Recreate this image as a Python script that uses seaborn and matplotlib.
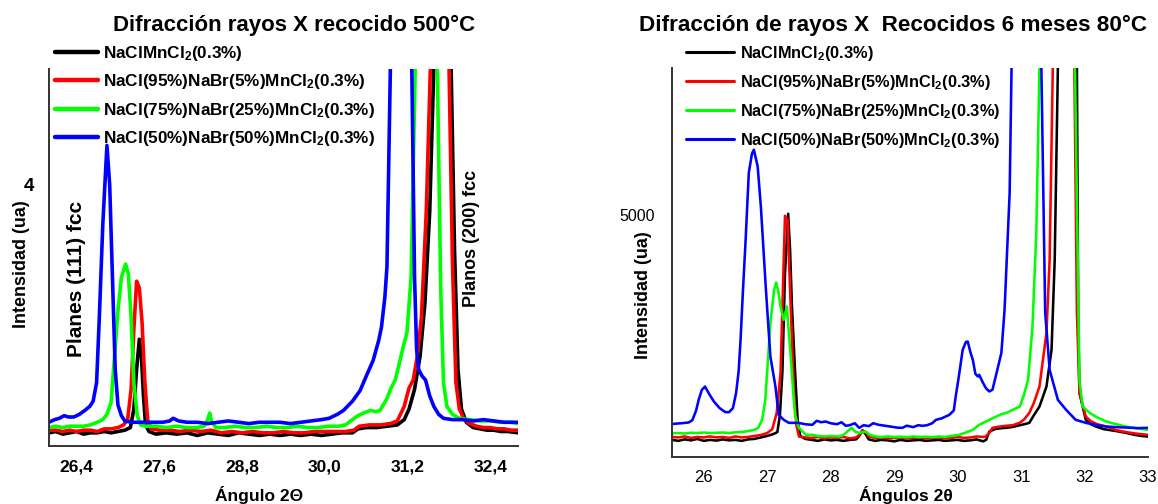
import matplotlib
matplotlib.use("Agg")
import matplotlib.pyplot as plt
from matplotlib.lines import Line2D
from matplotlib.ticker import FixedLocator
import seaborn as sns
import pandas as pd

# ---------------- data: left panel (annealed 500 C) ----------------
series_names = [r"NaClMnCl$_2$(0.3%)",
                r"NaCl(95%)NaBr(5%)MnCl$_2$(0.3%)",
                r"NaCl(75%)NaBr(25%)MnCl$_2$(0.3%)",
                r"NaCl(50%)NaBr(50%)MnCl$_2$(0.3%)"]
series_colors = ["#000000", "#ff0000", "#00ff00", "#0000ff"]

left_black_x = [26.00, 26.10, 26.20, 26.30, 26.40, 26.50, 26.60, 26.70, 26.80, 26.90, 27.00, 27.10, 27.18, 27.23,
                27.27, 27.31, 27.34, 27.37, 27.40, 27.45, 27.55, 27.70, 27.85, 28.00, 28.15, 28.30, 28.45, 28.60,
                28.75, 28.90, 29.05, 29.20, 29.35, 29.50, 29.65, 29.80, 29.95, 30.10, 30.25, 30.40, 30.48, 30.60,
                30.75, 30.90, 31.05, 31.15, 31.22, 31.30, 31.38, 31.45, 31.52, 31.58, 31.64, 31.70, 31.76, 31.83,
                31.88, 31.93, 31.98, 32.05, 32.15, 32.25, 32.35, 32.45, 32.55, 32.65, 32.80]
left_black_y = [2.12, 2.13, 2.11, 2.12, 2.13, 2.11, 2.12, 2.12, 2.13, 2.12, 2.13, 2.14, 2.16, 2.30,
                2.60, 2.83, 2.70, 2.40, 2.18, 2.13, 2.11, 2.12, 2.11, 2.12, 2.10, 2.12, 2.11, 2.10,
                2.12, 2.11, 2.10, 2.11, 2.10, 2.11, 2.10, 2.11, 2.10, 2.11, 2.12, 2.12, 2.15, 2.16,
                2.16, 2.17, 2.18, 2.22, 2.30, 2.45, 2.70, 3.10, 3.80, 4.90, 7.0, 9.0, 7.0, 4.90,
                3.50, 2.60, 2.30, 2.20, 2.16, 2.15, 2.14, 2.14, 2.13, 2.13, 2.12]

left_red_x = [26.00, 26.10, 26.20, 26.30, 26.40, 26.50, 26.60, 26.70, 26.80, 26.90, 27.00, 27.08, 27.14, 27.19,
              27.23, 27.27, 27.31, 27.35, 27.39, 27.43, 27.48, 27.60, 27.75, 27.90, 28.05, 28.20, 28.35, 28.50,
              28.65, 28.80, 28.95, 29.10, 29.25, 29.40, 29.55, 29.70, 29.85, 30.00, 30.15, 30.30, 30.42, 30.50,
              30.65, 30.80, 30.95, 31.05, 31.15, 31.22, 31.28, 31.34, 31.40, 31.47, 31.53, 31.60, 31.66, 31.73,
              31.80, 31.85, 31.90, 31.95, 32.02, 32.10, 32.20, 32.30, 32.40, 32.50, 32.60, 32.70, 32.80]
left_red_y = [2.14, 2.14, 2.13, 2.14, 2.13, 2.14, 2.14, 2.13, 2.15, 2.15, 2.16, 2.18, 2.22, 2.45,
              2.90, 3.27, 3.22, 2.95, 2.50, 2.22, 2.15, 2.14, 2.14, 2.13, 2.14, 2.13, 2.14, 2.12,
              2.13, 2.12, 2.13, 2.12, 2.12, 2.13, 2.12, 2.12, 2.13, 2.13, 2.13, 2.13, 2.14, 2.17,
              2.18, 2.18, 2.19, 2.21, 2.32, 2.46, 2.52, 2.70, 3.00, 3.80, 4.90, 7.5, 9.0, 7.5,
              4.90, 3.40, 2.50, 2.30, 2.22, 2.19, 2.17, 2.16, 2.16, 2.15, 2.15, 2.14, 2.14]

left_green_x = [26.00, 26.10, 26.20, 26.30, 26.40, 26.50, 26.60, 26.70, 26.78, 26.84, 26.90, 26.95, 27.00, 27.05,
                27.11, 27.15, 27.19, 27.23, 27.28, 27.33, 27.40, 27.55, 27.70, 27.85, 28.00, 28.15, 28.25, 28.30,
                28.33, 28.36, 28.42, 28.55, 28.70, 28.85, 29.00, 29.15, 29.30, 29.45, 29.60, 29.75, 29.90, 30.05,
                30.20, 30.30, 30.40, 30.48, 30.56, 30.66, 30.74, 30.80, 30.90, 30.96, 31.02, 31.09, 31.14, 31.19,
                31.25, 31.31, 31.39, 31.47, 31.55, 31.63, 31.68, 31.72, 31.77, 31.85, 31.95, 32.10, 32.25, 32.40,
                32.55, 32.70, 32.80]
left_green_y = [2.16, 2.17, 2.16, 2.17, 2.17, 2.17, 2.18, 2.20, 2.22, 2.26, 2.35, 2.70, 3.05, 3.30,
                3.40, 3.33, 3.00, 2.50, 2.25, 2.18, 2.17, 2.17, 2.16, 2.17, 2.16, 2.16, 2.17, 2.22,
                2.27, 2.20, 2.16, 2.16, 2.17, 2.16, 2.16, 2.17, 2.16, 2.16, 2.17, 2.16, 2.16, 2.17,
                2.17, 2.18, 2.22, 2.25, 2.27, 2.29, 2.28, 2.29, 2.38, 2.46, 2.52, 2.67, 2.78, 2.88,
                3.30, 4.90, 7.5, 9.0, 7.5, 4.90, 3.20, 2.50, 2.32, 2.26, 2.23, 2.22, 2.21, 2.21,
                2.20, 2.20, 2.19]

left_blue_x = [26.00, 26.08, 26.15, 26.22, 26.28, 26.36, 26.44, 26.52, 26.59, 26.64, 26.69, 26.73, 26.78, 26.84,
               26.88, 26.92, 26.96, 27.00, 27.05, 27.10, 27.20, 27.35, 27.50, 27.65, 27.75, 27.80, 27.88, 28.00,
               28.15, 28.30, 28.45, 28.60, 28.75, 28.90, 29.05, 29.20, 29.35, 29.50, 29.65, 29.80, 29.95, 30.06,
               30.18, 30.27, 30.40, 30.51, 30.60, 30.70, 30.78, 30.82, 30.87, 30.90, 30.95, 31.02, 31.10, 31.18,
               31.26, 31.30, 31.33, 31.36, 31.41, 31.46, 31.52, 31.58, 31.65, 31.72, 31.85, 32.00, 32.15, 32.30,
               32.45, 32.60, 32.80]
left_blue_y = [2.20, 2.22, 2.23, 2.25, 2.24, 2.24, 2.26, 2.29, 2.32, 2.36, 2.50, 3.00, 3.70, 4.30,
               4.00, 3.30, 2.60, 2.33, 2.25, 2.21, 2.20, 2.20, 2.20, 2.20, 2.21, 2.23, 2.21, 2.20,
               2.20, 2.19, 2.20, 2.21, 2.20, 2.19, 2.20, 2.20, 2.20, 2.19, 2.20, 2.21, 2.22, 2.23,
               2.26, 2.29, 2.36, 2.44, 2.55, 2.67, 2.82, 2.92, 3.15, 3.38, 4.90, 7.5, 9.0, 7.5,
               4.90, 3.30, 2.75, 2.60, 2.55, 2.52, 2.40, 2.32, 2.26, 2.23, 2.22, 2.22, 2.21, 2.22,
               2.21, 2.20, 2.20]

# ---------------- data: right panel (6 months at 80 C) ----------------
right_black_x = [25.50, 25.60, 25.70, 25.80, 25.90, 26.00, 26.10, 26.20, 26.30, 26.40, 26.50, 26.60, 26.70, 26.80,
                 26.90, 27.00, 27.10, 27.16, 27.20, 27.24, 27.28, 27.33, 27.36, 27.39, 27.44, 27.48, 27.52, 27.60,
                 27.70, 27.80, 27.90, 28.00, 28.10, 28.20, 28.30, 28.40, 28.45, 28.50, 28.55, 28.60, 28.70, 28.80,
                 28.90, 29.00, 29.10, 29.20, 29.30, 29.40, 29.50, 29.60, 29.70, 29.80, 29.90, 30.00, 30.10, 30.20,
                 30.30, 30.40, 30.45, 30.50, 30.60, 30.70, 30.76, 30.85, 30.95, 31.05, 31.13, 31.20, 31.29, 31.40,
                 31.48, 31.53, 31.58, 31.65, 31.73, 31.80, 31.88, 31.90, 31.92, 32.02, 32.10, 32.18, 32.30, 32.40,
                 32.50, 32.65, 32.80, 32.90, 33.00]
right_black_y = [400, 380, 410, 390, 420, 380, 400, 385, 410, 390, 400, 380, 410, 420,
                 450, 480, 520, 560, 900, 1800, 3800, 5020, 4300, 3126, 1769, 800, 480, 420,
                 400, 380, 410, 390, 400, 380, 400, 410, 480, 590, 520, 410, 380, 400,
                 390, 370, 400, 380, 390, 400, 380, 390, 400, 380, 390, 400, 380, 390,
                 410, 370, 400, 571, 625, 640, 646, 660, 690, 720, 748, 900, 1081, 1490,
                 2240, 4080, 8000, 14000, 20000, 14000, 8000, 3000, 1360, 810, 720, 673, 620, 600,
                 580, 544, 500, 480, 468]

right_red_x = [25.50, 25.60, 25.70, 25.80, 25.90, 26.00, 26.10, 26.20, 26.30, 26.40, 26.50, 26.60, 26.70, 26.80,
               26.90, 27.00, 27.08, 27.15, 27.21, 27.24, 27.28, 27.32, 27.37, 27.42, 27.46, 27.50, 27.60, 27.70,
               27.80, 27.90, 28.00, 28.10, 28.20, 28.30, 28.40, 28.45, 28.50, 28.55, 28.60, 28.70, 28.80, 28.90,
               29.00, 29.10, 29.20, 29.30, 29.40, 29.50, 29.60, 29.70, 29.80, 29.90, 30.00, 30.10, 30.20, 30.30,
               30.40, 30.44, 30.50, 30.55, 30.65, 30.76, 30.87, 30.98, 31.05, 31.13, 31.20, 31.29, 31.40, 31.45,
               31.50, 31.58, 31.67, 31.76, 31.84, 31.88, 31.92, 32.02, 32.10, 32.20, 32.34, 32.50, 32.65, 32.80,
               33.00]
right_red_y = [460, 450, 470, 440, 460, 450, 470, 450, 460, 440, 470, 450, 460, 480,
               500, 540, 620, 952, 1769, 3126, 4980, 4898, 3126, 1422, 700, 468, 450, 440,
               460, 430, 450, 440, 460, 430, 450, 500, 600, 560, 470, 440, 450, 430,
               440, 450, 430, 440, 450, 430, 440, 450, 430, 440, 460, 440, 450, 470,
               460, 468, 544, 646, 670, 687, 700, 750, 820, 952, 1150, 1490, 2588, 4080,
               8000, 14000, 20000, 14000, 8000, 3000, 1360, 877, 780, 720, 673, 600, 560, 530,
               503]

right_green_x = [25.50, 25.60, 25.70, 25.80, 25.90, 26.00, 26.10, 26.20, 26.30, 26.40, 26.50, 26.60, 26.70, 26.80,
                 26.86, 26.92, 26.97, 27.01, 27.05, 27.11, 27.14, 27.18, 27.21, 27.26, 27.31, 27.37, 27.42, 27.44,
                 27.50, 27.61, 27.71, 27.80, 27.90, 28.00, 28.13, 28.20, 28.27, 28.33, 28.39, 28.45, 28.55, 28.62,
                 28.71, 28.80, 28.90, 29.00, 29.10, 29.20, 29.30, 29.40, 29.50, 29.60, 29.70, 29.80, 29.90, 30.03,
                 30.15, 30.24, 30.34, 30.50, 30.61, 30.70, 30.77, 30.87, 30.98, 31.04, 31.11, 31.18, 31.24, 31.29,
                 31.38, 31.57, 31.76, 31.85, 31.92, 31.97, 32.08, 32.20, 32.34, 32.50, 32.65, 32.80, 33.00]
right_green_y = [537, 540, 530, 545, 540, 550, 540, 545, 550, 540, 555, 560, 580, 605,
                 650, 810, 1218, 2000, 2792, 3467, 3616, 3400, 3126, 2853, 3126, 2104, 1218, 900,
                 646, 503, 503, 480, 470, 480, 468, 500, 580, 645, 560, 544, 571, 500,
                 468, 460, 470, 460, 465, 455, 470, 460, 465, 455, 470, 460, 480, 503,
                 560, 605, 707, 810, 877, 930, 952, 1014, 1081, 1300, 1627, 2717, 4632, 8000,
                 14000, 20000, 14000, 8000, 1627, 1081, 952, 860, 775, 720, 673, 640, 605]

right_blue_x = [25.47, 25.55, 25.65, 25.76, 25.82, 25.88, 25.92, 25.97, 26.02, 26.08, 26.16, 26.25, 26.34, 26.40,
                26.46, 26.51, 26.55, 26.58, 26.62, 26.66, 26.71, 26.76, 26.79, 26.85, 26.90, 26.98, 27.05, 27.13,
                27.18, 27.26, 27.34, 27.49, 27.60, 27.71, 27.78, 27.85, 27.92, 28.00, 28.10, 28.17, 28.24, 28.30,
                28.38, 28.45, 28.52, 28.60, 28.67, 28.76, 28.85, 28.95, 29.05, 29.13, 29.20, 29.30, 29.38, 29.45,
                29.52, 29.60, 29.66, 29.75, 29.87, 29.94, 29.97, 30.02, 30.08, 30.13, 30.16, 30.20, 30.24, 30.28,
                30.32, 30.34, 30.40, 30.45, 30.50, 30.55, 30.62, 30.69, 30.74, 30.82, 30.85, 30.95, 31.08, 31.20,
                31.32, 31.38, 31.45, 31.58, 31.71, 31.86, 32.02, 32.20, 32.34, 32.50, 32.70, 32.85, 33.00]
right_blue_y = [721, 730, 740, 755, 800, 1000, 1218, 1420, 1490, 1350, 1184, 1050, 967, 967,
                1050, 1360, 1800, 2443, 3500, 4486, 5857, 6250, 6329, 5988, 5170, 3467, 2104, 1490,
                912, 810, 748, 748, 720, 707, 790, 760, 775, 740, 720, 760, 687, 700,
                740, 646, 700, 680, 740, 707, 690, 670, 650, 646, 690, 660, 700, 687,
                700, 740, 810, 840, 912, 1000, 1286, 1700, 2240, 2400, 2410, 2200, 2035, 1750,
                1695, 1730, 1565, 1450, 1390, 1425, 1800, 2180, 3058, 5446, 8000, 14000, 20000, 14000,
                8000, 3000, 1832, 1218, 1014, 810, 748, 700, 673, 660, 650, 640, 646]

left_xticks = [26.4, 27.6, 28.8, 30.0, 31.2, 32.4]
left_xticklabels = ["26,4", "27,6", "28,8", "30,0", "31,2", "32,4"]
right_xticks = [26, 27, 28, 29, 30, 31, 32, 33]

# ---------------- style ----------------
sns.set_style("white")
plt.rcParams["font.family"] = ["Liberation Sans", "DejaVu Sans"]
plt.rcParams["mathtext.fontset"] = "custom"
plt.rcParams["mathtext.rm"] = "Liberation Sans:bold"
plt.rcParams["mathtext.it"] = "Liberation Sans:bold"
plt.rcParams["mathtext.bf"] = "Liberation Sans:bold"
plt.rcParams["mathtext.default"] = "rm"
plt.rcParams["text.color"] = "black"
plt.rcParams["axes.labelcolor"] = "black"
plt.rcParams["xtick.color"] = "black"
plt.rcParams["ytick.color"] = "black"

W, H = 1158, 504
fig = plt.figure(figsize=(W / 100, H / 100), dpi=100)
axL = fig.add_axes([49 / W, 1 - 446 / H, 469 / W, 377 / H])
axR = fig.add_axes([672 / W, 1 - 457 / H, 476 / W, 389 / H])


def make_df(xs, ys):
    frames = []
    for name, x, y in zip(series_names, xs, ys):
        frames.append(pd.DataFrame({"x": x, "y": y, "serie": name}))
    return pd.concat(frames, ignore_index=True)


dfL = make_df([left_black_x, left_red_x, left_green_x, left_blue_x],
              [left_black_y, left_red_y, left_green_y, left_blue_y])
dfR = make_df([right_black_x, right_red_x, right_green_x, right_blue_x],
              [right_black_y, right_red_y, right_green_y, right_blue_y])
palette = dict(zip(series_names, series_colors))

sns.lineplot(data=dfL, x="x", y="y", hue="serie", hue_order=series_names, palette=palette,
             estimator=None, sort=False, lw=2.6, ax=axL, legend=False)
sns.lineplot(data=dfR, x="x", y="y", hue="serie", hue_order=series_names, palette=palette,
             estimator=None, sort=False, lw=1.85, ax=axR, legend=False)

# ---------------- left axes ----------------
axL.set_xlim(26.0, 32.8)
axL.set_ylim(2.02, 4.88)
axL.set_xticks(left_xticks)
axL.set_xticklabels(left_xticklabels, fontsize=12.5, fontweight="bold")
axL.xaxis.set_minor_locator(FixedLocator([27.0, 28.2, 29.4, 30.6, 31.8]))
axL.set_yticks([4])
axL.set_yticklabels(["4"], fontsize=13.5, fontweight="bold")
axL.yaxis.set_minor_locator(FixedLocator([3]))
axL.tick_params(axis="both", which="major", direction="out", length=6, width=1.3, color="#333333", pad=4)
axL.tick_params(axis="y", which="major", length=8, pad=3)
axL.tick_params(axis="both", which="minor", direction="out", length=5, width=1.3, color="#333333")
axL.set_xlabel("Ángulo 2Θ", fontsize=12.5, fontweight="bold")
axL.xaxis.set_label_coords(0.447, -0.106)
axL.set_ylabel("Intensidad (ua)", fontsize=13, fontweight="bold")
axL.yaxis.set_label_coords(-0.041, 0.483)

# ---------------- right axes ----------------
axR.set_xlim(25.5, 33.0)
axR.set_ylim(50, 8000)
axR.set_xticks(right_xticks)
axR.set_xticklabels([str(t) for t in right_xticks], fontsize=12)
axR.xaxis.set_minor_locator(FixedLocator([25.5, 26.5, 27.5, 28.5, 29.5, 30.5, 31.5, 32.5]))
axR.set_yticks([5000])
axR.set_yticklabels(["5000"], fontsize=11.5)
axR.yaxis.set_minor_locator(FixedLocator([2500, 7500]))
axR.tick_params(axis="both", which="major", direction="out", length=6, width=1.2, color="#333333", pad=3)
axR.tick_params(axis="y", which="major", length=9)
axR.tick_params(axis="both", which="minor", direction="out", length=4, width=1.2, color="#333333")
axR.set_xlabel("Ángulos 2θ", fontsize=12.5, fontweight="bold")
axR.xaxis.set_label_coords(0.491, -0.075)
axR.set_ylabel("Intensidad (ua)", fontsize=13, fontweight="bold")
axR.yaxis.set_label_coords(-0.041, 0.416)

for ax in (axL, axR):
    for s in ("top", "right"):
        ax.spines[s].set_visible(False)
    for s in ("left", "bottom"):
        ax.spines[s].set_linewidth(1.4)
        ax.spines[s].set_color("#333333")
    ax.set_facecolor("white")

# ---------------- titles ----------------
fig.text(294 / W, 1 - 25 / H, "Difracción rayos X recocido 500°C", ha="center", va="center",
         fontsize=16, fontweight="bold")
fig.text(893 / W, 1 - 25 / H, "Difracción de rayos X  Recocidos 6 meses 80°C", ha="center", va="center",
         fontsize=16.2, fontweight="bold")

# ---------------- legends ----------------
hL = [Line2D([], [], color=c, lw=3.2) for c in series_colors]
legL = axL.legend(handles=hL, labels=series_names, loc="upper left",
                  bbox_to_anchor=(55 / W, 1 - 44 / H), bbox_transform=fig.transFigure,
                  frameon=False, borderpad=0, borderaxespad=0, handlelength=2.5,
                  handletextpad=0.3, labelspacing=0.55,
                  prop={"size": 12.3, "weight": "bold"})
hR = [Line2D([], [], color=c, lw=2.2) for c in series_colors]
legR = axR.legend(handles=hR, labels=series_names, loc="upper left",
                  bbox_to_anchor=(686 / W, 1 - 44 / H), bbox_transform=fig.transFigure,
                  frameon=False, borderpad=0, borderaxespad=0, handlelength=2.9,
                  handletextpad=0.38, labelspacing=0.6,
                  prop={"size": 11.8, "weight": "bold"})

# ---------------- annotations ----------------
fig.text(77 / W, 1 - 279 / H, "Planes (111) fcc", rotation=90, ha="center", va="center",
         fontsize=15, fontweight="bold")
fig.text(471 / W, 1 - 238 / H, "Planos (200) fcc", rotation=90, ha="center", va="center",
         fontsize=13, fontweight="bold")

fig.savefig("out.png", dpi=100, facecolor="white")
